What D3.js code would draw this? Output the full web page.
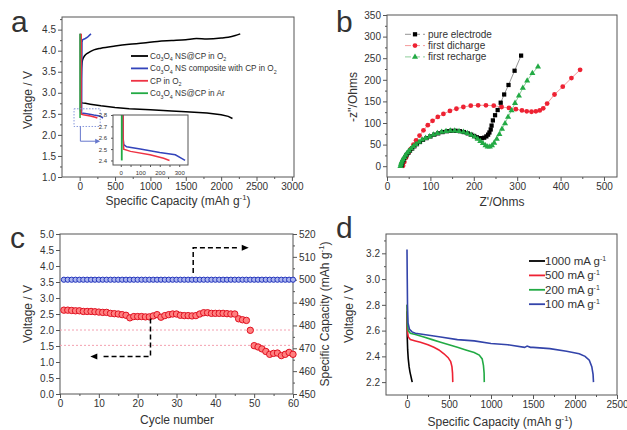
<!DOCTYPE html>
<html><head><meta charset="utf-8">
<script src="https://cdn.jsdelivr.net/npm/d3@7"></script>
<style>
body{margin:0;background:#fff;}
svg text{font-family:"Liberation Sans",Arial,sans-serif;fill:#333;}
</style></head><body>
<svg id="c" width="627" height="430"></svg>
<script>
// ---------- Panel a data ----------
const aXTicks = [0,500,1000,1500,2000,2500,3000];
const aYTicks = [1.0,1.5,2.0,2.5,3.0,3.5,4.0,4.5];
const aBlackCharge = [[18,2.78],[22,3.3],[27,3.6],[40,3.78],[70,3.88],[120,3.95],[200,4.02],[300,4.06],[500,4.11],[700,4.15],[900,4.18],[1100,4.22],[1300,4.24],[1500,4.26],[1650,4.29],[1800,4.28],[2000,4.3],[2100,4.32],[2200,4.36],[2270,4.40]];
const aBlackDischarge = [[15,4.3],[18,2.8],[30,2.76],[80,2.75],[150,2.73],[300,2.69],[500,2.65],[700,2.62],[1000,2.6],[1300,2.57],[1500,2.55],[1800,2.52],[2000,2.48],[2100,2.44],[2160,2.39]];
const aBlueCharge = [[28,2.55],[30,3.5],[33,4.2],[40,4.26],[80,4.29],[110,4.32],[140,4.37],[160,4.4]];
const aBlueDischarge = [[10,4.4],[12,2.6],[15,2.54],[30,2.52],[100,2.5],[200,2.47],[280,2.45],[310,2.42],[330,2.40]];
const aRedCharge = [[18,2.5],[22,4.4]];
const aRedDischarge = [[10,4.4],[12,2.6],[15,2.5],[50,2.48],[150,2.45],[220,2.42],[250,2.40]];
const aGreen = [[5,2.4],[5,4.4]];
const insetXTicks = [0,100,200,300];
const insetYTicks = [2.4,2.5,2.6,2.7,2.8];
const aLegend = [
  {color:"#000", parts:[["Co"],["3","s"],["O"],["4","s"],[" NS@CP in O"],["2","s"]]},
  {color:"#3344bb", parts:[["Co"],["3","s"],["O"],["4","s"],[" NS composite with CP in O"],["2","s"]]},
  {color:"#ee3344", parts:[["CP in O"],["2","s"]]},
  {color:"#22aa44", parts:[["Co"],["3","s"],["O"],["4","s"],[" NS@CP in Ar"]]}
];

// ---------- Panel b data ----------
const bXTicks = [0,100,200,300,400,500];
const bYTicks = [0,50,100,150,200,250,300,350];
const bPure = [[33,1],[34,4],[35,8],[37,12],[39,16],[42,21],[45,26],[49,31],[53,36],[58,41],[63,46],[69,51],[76,56],[83,61],[91,65],[100,69],[109,73],[118,76],[128,79],[138,81],[148,82],[158,82],[168,81],[177,79],[186,76],[194,73],[201,70],[207,67],[213,65],[219,65],[224,66],[229,69],[233,73],[236,78],[239,85],[241,94],[244,106],[249,118],[255,130],[262,147],[270,166],[280,188],[294,221],[309,256]];
const bDischarge = [[37,1],[40,10],[44,20],[49,30],[55,40],[61,50],[67,60],[75,71],[84,83],[94,95],[105,105],[117,114],[130,121],[145,128],[160,133],[176,137],[193,140],[210,141],[228,141],[246,140],[264,137],[281,135],[297,132],[311,129],[322,127],[333,126],[343,127],[352,129],[360,134],[369,145],[386,166],[405,184],[425,204],[445,223]];
const bRecharge = [[31,0],[32,4],[33,8],[35,12],[37,16],[40,21],[43,26],[47,31],[51,36],[56,41],[61,46],[67,51],[74,56],[81,61],[89,65],[98,69],[107,73],[116,76],[126,79],[136,81],[146,82],[156,82],[166,81],[176,79],[185,76],[194,72],[202,68],[209,63],[215,58],[221,53],[227,48],[232,45],[237,45],[242,48],[247,54],[253,63],[259,74],[265,86],[272,99],[279,114],[287,129],[295,146],[304,163],[313,181],[323,198],[335,215],[348,230]];
const bLegend = ["pure electrode","first dicharge","first recharge"];

// ---------- Panel c data ----------
const cXTicks = [0,10,20,30,40,50,60];
const cYTicks = [0.0,0.5,1.0,1.5,2.0,2.5,3.0,3.5,4.0,4.5,5.0];
const cY2Ticks = [450,460,470,480,490,500,510,520];
const cCycles = [1,2,3,4,5,6,7,8,9,10,11,12,13,14,15,16,17,18,19,20,21,22,23,24,25,26,27,28,29,30,31,32,33,34,35,36,37,38,39,40,41,42,43,44,45,46,47,48,49,50,51,52,53,54,55,56,57,58,59,60];
const cVoltage = [2.62,2.62,2.61,2.60,2.60,2.58,2.58,2.58,2.57,2.56,2.55,2.55,2.52,2.51,2.50,2.48,2.46,2.38,2.42,2.42,2.42,2.41,2.41,2.44,2.48,2.40,2.45,2.48,2.50,2.50,2.46,2.45,2.45,2.44,2.45,2.50,2.54,2.54,2.52,2.52,2.52,2.52,2.51,2.50,2.50,2.35,2.32,2.30,1.99,1.51,1.47,1.41,1.33,1.24,1.27,1.28,1.20,1.24,1.30,1.24];
const cCapacity = [500,500,500,500,500,500,500,500,500,500,500,500,500,500,500,500,500,500,500,500,500,500,500,500,500,500,500,500,500,500,500,500,500,500,500,500,500,500,500,500,500,500,500,500,500,500,500,500,500,500,500,500,500,500,500,500,500,500,500,500];
const cRefLines = [2.0,1.52];

// ---------- Panel d data ----------
const dXTicks = [0,500,1000,1500,2000,2500];
const dYTicks = [2.2,2.4,2.6,2.8,3.0,3.2];
const d1000 = [[0,2.75],[3,2.55],[8,2.45],[15,2.38],[25,2.32],[35,2.28],[45,2.25],[55,2.22],[62,2.2]];
const d500 = [[0,2.8],[5,2.6],[15,2.55],[40,2.53],[100,2.52],[160,2.51],[250,2.49],[320,2.47],[380,2.45],[440,2.42],[490,2.39],[520,2.36],[535,2.32],[542,2.27],[545,2.2]];
const d200 = [[0,2.8],[5,2.65],[15,2.6],[40,2.58],[100,2.57],[200,2.55],[300,2.53],[400,2.51],[500,2.49],[600,2.47],[700,2.45],[800,2.43],[860,2.41],[895,2.38],[910,2.33],[918,2.27],[920,2.2]];
const d100 = [[0,3.23],[3,3.0],[6,2.8],[12,2.66],[30,2.61],[60,2.59],[100,2.58],[200,2.57],[400,2.55],[600,2.53],[800,2.52],[1000,2.5],[1200,2.49],[1400,2.47],[1430,2.48],[1470,2.47],[1500,2.47],[1700,2.46],[1900,2.44],[2050,2.42],[2120,2.40],[2170,2.37],[2200,2.32],[2215,2.26],[2220,2.2]];
const dLegend = [["1000 mA g","#000"],["500 mA g","#ee2233"],["200 mA g","#22aa44"],["100  mA g","#3344aa"]];

// ---------- helpers ----------
const svg = d3.select("#c");
svg.append("rect").attr("width",627).attr("height",430).attr("fill","#fff");
const AX = "#555", FONT = "Liberation Sans, Arial, sans-serif";

function frame(g, x, y){
  const [x0,x1]=x.range(), [y0,y1]=y.range();
  g.append("rect").attr("x",x0).attr("y",y1).attr("width",x1-x0).attr("height",y0-y1)
    .attr("fill","none").attr("stroke",AX).attr("stroke-width",1);
}
function axis(g, fn, scale, major, minor, fmt, tr, fs){
  const dom = scale.domain();
  const inD = v => v>=Math.min(...dom)-1e-9 && v<=Math.max(...dom)+1e-9;
  const a = g.append("g").attr("transform",tr)
    .call(fn(scale).tickValues(major.filter(inD)).tickFormat(fmt).tickSize(4).tickSizeOuter(0).tickPadding(2));
  const m = g.append("g").attr("transform",tr)
    .call(fn(scale).tickValues(minor.filter(inD)).tickFormat("").tickSize(2).tickSizeOuter(0));
  [a,m].forEach(s=>{ s.select(".domain").remove(); s.selectAll("line").attr("stroke",AX); s.attr("font-family",FONT).attr("font-size",fs);});
  a.selectAll("text").attr("fill","#333");
  return a;
}
function label(g, txt, x, y, rot, fs, sup){
  const t = g.append("text").attr("text-anchor","middle").attr("font-size",fs)
    .attr("transform",`translate(${x},${y})`+(rot?` rotate(${rot})`:""));
  t.append("tspan").text(txt);
  if(sup){
    t.append("tspan").attr("dy",-fs*0.4).attr("font-size",fs*0.65).text(sup);
    t.append("tspan").attr("dy",fs*0.4).text(")");
  }
  return t;
}
function rich(g, parts, x, y, fs){
  const t = g.append("text").attr("x",x).attr("y",y).attr("font-size",fs);
  let shifted = false;
  parts.forEach(p=>{
    if(p[1]==="s"){ t.append("tspan").attr("dy",fs*0.3).attr("font-size",fs*0.65).text(p[0]); shifted=true; }
    else { const s=t.append("tspan").text(p[0]); if(shifted){ s.attr("dy",-fs*0.3); shifted=false; } }
  });
  return t;
}
const range = (a,b,s) => { const r=[]; for(let v=a; v<=b+1e-9; v+=s) r.push(+v.toFixed(4)); return r; };

// ================= Panel a =================
{
  const g = svg.append("g");
  const x = d3.scaleLinear([-250,3030],[62,294]);
  const y = d3.scaleLinear([1.0,4.8],[177,17]);
  axis(g, d3.axisBottom, x, aXTicks, range(250,2750,500), d3.format("d"), `translate(0,177)`, 10);
  axis(g, d3.axisLeft, y, aYTicks, range(1.25,4.75,0.5), d3.format(".1f"), `translate(62,0)`, 10);
  frame(g,x,y);
  const line = d3.line().x(d=>x(d[0])).y(d=>y(d[1])).curve(d3.curveMonotoneX);
  const lineV = d3.line().x(d=>x(d[0])).y(d=>y(d[1]));
  g.append("path").attr("d",line(aBlackCharge)).attr("fill","none").attr("stroke","#000").attr("stroke-width",1.5);
  g.append("path").attr("d",lineV(aBlackDischarge)).attr("fill","none").attr("stroke","#000").attr("stroke-width",1.5);
  g.append("path").attr("d",lineV(aBlueCharge)).attr("fill","none").attr("stroke","#3344bb").attr("stroke-width",1.5);
  g.append("path").attr("d",lineV(aBlueDischarge)).attr("fill","none").attr("stroke","#3344bb").attr("stroke-width",1.5);
  g.append("path").attr("d",lineV(aRedCharge)).attr("fill","none").attr("stroke","#ee3344").attr("stroke-width",1.5);
  g.append("path").attr("d",lineV(aRedDischarge)).attr("fill","none").attr("stroke","#ee3344").attr("stroke-width",1.5);
  g.append("path").attr("d",lineV(aGreen)).attr("fill","none").attr("stroke","#22aa44").attr("stroke-width",1.5);
  // dotted zoom box and arrow
  g.append("rect").attr("x",x(-80)).attr("y",y(2.62)).attr("width",x(290)-x(-80)).attr("height",y(2.2)-y(2.62))
    .attr("fill","none").attr("stroke","#8899dd").attr("stroke-dasharray","1.5,1.5");
  g.append("path").attr("d",`M${x(10)},${y(2.2)}V${y(1.85)}H${x(265)}`).attr("fill","none").attr("stroke","#6677cc").attr("stroke-width",1);
  g.append("path").attr("d",`M${x(290)},${y(1.85)}l-5,-2.5v5z`).attr("fill","#6677cc");
  // legend
  aLegend.forEach((L,i)=>{
    const yy = 56 + i*12.4;
    g.append("line").attr("x1",131).attr("x2",148).attr("y1",yy).attr("y2",yy).attr("stroke",L.color).attr("stroke-width",1.8);
    rich(g, L.parts, 150, yy+3, 8.2);
  });
  // inset
  const xi = d3.scaleLinear([-40,345],[113,188]);
  const yi = d3.scaleLinear([2.36,2.8],[165,115]);
  g.append("rect").attr("x",113).attr("y",115).attr("width",75).attr("height",50).attr("fill","#fff");
  axis(g, d3.axisBottom, xi, insetXTicks, [50,150,250], d3.format("d"), `translate(0,165)`, 6)
    .selectAll(".tick line").attr("y2",2);
  const ia = axis(g, d3.axisLeft, yi, insetYTicks, [], d3.format(".1f"), `translate(113,0)`, 6);
  ia.selectAll(".tick line").attr("x2",-2);
  const clipId="insclip";
  g.append("clipPath").attr("id",clipId).append("rect").attr("x",113).attr("y",115).attr("width",75).attr("height",50);
  const li = d3.line().x(d=>xi(d[0])).y(d=>yi(d[1]));
  const ig = g.append("g").attr("clip-path",`url(#${clipId})`);
  ig.append("path").attr("d",li(aBlueDischarge)).attr("fill","none").attr("stroke","#3344bb").attr("stroke-width",1.5);
  ig.append("path").attr("d",li(aRedDischarge)).attr("fill","none").attr("stroke","#ee3344").attr("stroke-width",1.5);
  ig.append("path").attr("d",li(aGreen)).attr("fill","none").attr("stroke","#22aa44").attr("stroke-width",1.8);
  g.append("rect").attr("x",113).attr("y",115).attr("width",75).attr("height",50).attr("fill","none").attr("stroke",AX);
  label(g,"Voltage / V",32,100,-90,12);
  label(g,"Specific Capacity (mAh g",178,205,0,12,"-1");
  g.append("text").attr("x",11).attr("y",32).attr("font-size",30).text("a");
}

// ================= Panel b =================
{
  const g = svg.append("g");
  const x = d3.scaleLinear([0,530],[387,617]);
  const y = d3.scaleLinear([-25,350],[177,15]);
  axis(g, d3.axisBottom, x, bXTicks, range(50,550,100), d3.format("d"), `translate(0,177)`, 10);
  axis(g, d3.axisLeft, y, bYTicks, range(25,325,50), d3.format("d"), `translate(387,0)`, 10);
  frame(g,x,y);
  const line = d3.line().x(d=>x(d[0])).y(d=>y(d[1]));
  const series = [
    {d:bPure, lc:"#777", mc:"#000", sym:d3.symbolSquare, sz:18},
    {d:bDischarge, lc:"#f08080", mc:"#ee2233", sym:d3.symbolCircle, sz:18},
    {d:bRecharge, lc:"#70c080", mc:"#22aa44", sym:d3.symbolTriangle, sz:16}
  ];
  series.forEach(s=>{
    g.append("path").attr("d",line(s.d)).attr("fill","none").attr("stroke",s.lc).attr("stroke-width",0.8);
  });
  [series[1],series[0],series[2]].forEach(s=>{
    g.selectAll(null).data(s.d).join("path")
      .attr("transform",d=>`translate(${x(d[0])},${y(d[1])})`)
      .attr("d",d3.symbol(s.sym,s.sz)).attr("fill",s.mc);
  });
  series.forEach((s,i)=>{
    const yy = 34.3 + i*11.3;
    g.append("line").attr("x1",405).attr("x2",425).attr("y1",yy).attr("y2",yy).attr("stroke",s.lc).attr("stroke-width",0.8).attr("stroke-dasharray","6,3");
    g.append("path").attr("transform",`translate(415,${yy})`).attr("d",d3.symbol(s.sym,s.sz)).attr("fill",s.mc);
    g.append("text").attr("x",428).attr("y",yy+3.5).attr("font-size",10).text(bLegend[i]);
  });
  label(g,"-z''/Ohms",357,97,-90,12);
  label(g,"Z'/Ohms",502,206,0,12);
  g.append("text").attr("x",336).attr("y",32).attr("font-size",30).text("b");
}

// ================= Panel c =================
{
  const g = svg.append("g");
  const x = d3.scaleLinear([0,60],[60,293]);
  const y = d3.scaleLinear([0,5],[394,234]);
  const y2 = d3.scaleLinear([450,520],[394,234]);
  axis(g, d3.axisBottom, x, cXTicks, range(5,55,10), d3.format("d"), `translate(0,394)`, 10);
  axis(g, d3.axisLeft, y, cYTicks, [], d3.format(".1f"), `translate(60,0)`, 10);
  axis(g, d3.axisRight, y2, cY2Ticks, range(455,515,10), d3.format("d"), `translate(293,0)`, 10);
  frame(g,x,y);
  cRefLines.forEach(v=>{
    g.append("line").attr("x1",x(0)).attr("x2",x(60)).attr("y1",y(v)).attr("y2",y(v))
      .attr("stroke","#f4a0b0").attr("stroke-dasharray","2,2").attr("stroke-width",1);
  });
  g.selectAll(null).data(cCycles).join("circle")
    .attr("cx",(d)=>x(d)).attr("cy",(d,i)=>y2(cCapacity[i])).attr("r",2.6)
    .attr("fill","#aab4ee").attr("stroke","#2233bb").attr("stroke-width",1);
  g.selectAll(null).data(cCycles).join("circle")
    .attr("cx",(d)=>x(d)).attr("cy",(d,i)=>y(cVoltage[i])).attr("r",3.2)
    .attr("fill","#ff8080").attr("stroke","#e01020").attr("stroke-width",1);
  // dashed arrows
  g.append("path").attr("d",`M${x(23.3)},${y(2.36)}V${y(1.17)}H${x(10.5)}`).attr("fill","none").attr("stroke","#000").attr("stroke-width",1.5).attr("stroke-dasharray","5,3");
  g.append("path").attr("d",`M${x(7.8)},${y(1.17)}l7,-3v6z`).attr("fill","#000");
  g.append("path").attr("d",`M${x(34.3)},${y(3.78)}V${y(4.57)}H${x(46)}`).attr("fill","none").attr("stroke","#000").attr("stroke-width",1.5).attr("stroke-dasharray","5,3");
  g.append("path").attr("d",`M${x(48.6)},${y(4.57)}l-7,-3v6z`).attr("fill","#000");
  label(g,"Voltage / V",32,314,-90,12);
  label(g,"Cycle number",177,424,0,12);
  label(g,"Specific Capacity (mAh g",329,314,-90,12,"-1");
  g.append("text").attr("x",10).attr("y",248).attr("font-size",30).text("c");
}

// ================= Panel d =================
{
  const g = svg.append("g");
  const x = d3.scaleLinear([-250,2500],[386,617]);
  const y = d3.scaleLinear([2.1,3.35],[395,234]);
  axis(g, d3.axisBottom, x, dXTicks, range(250,2250,500), d3.format("d"), `translate(0,395)`, 10);
  axis(g, d3.axisLeft, y, dYTicks, range(2.3,3.3,0.2), d3.format(".1f"), `translate(386,0)`, 10);
  frame(g,x,y);
  const line = d3.line().x(d=>x(d[0])).y(d=>y(d[1]));
  [[d1000,"#000"],[d500,"#ee2233"],[d200,"#22aa44"],[d100,"#3344aa"]].forEach(([d,c])=>{
    g.append("path").attr("d",line(d)).attr("fill","none").attr("stroke",c).attr("stroke-width",1.6);
  });
  dLegend.forEach((L,i)=>{
    const yy = 261 + i*14.4;
    g.append("line").attr("x1",529).attr("x2",545).attr("y1",yy).attr("y2",yy).attr("stroke",L[1]).attr("stroke-width",1.8);
    const t = g.append("text").attr("x",545).attr("y",yy+4).attr("font-size",11.5);
    t.append("tspan").text(L[0]);
    t.append("tspan").attr("dy",-4).attr("font-size",7).text("-1");
  });
  label(g,"Voltage / V",353,314,-90,12);
  label(g,"Specific Capacity (mAh g",500,426,0,12,"-1");
  g.append("text").attr("x",336).attr("y",238).attr("font-size",30).text("d");
}
</script>
</body></html>
